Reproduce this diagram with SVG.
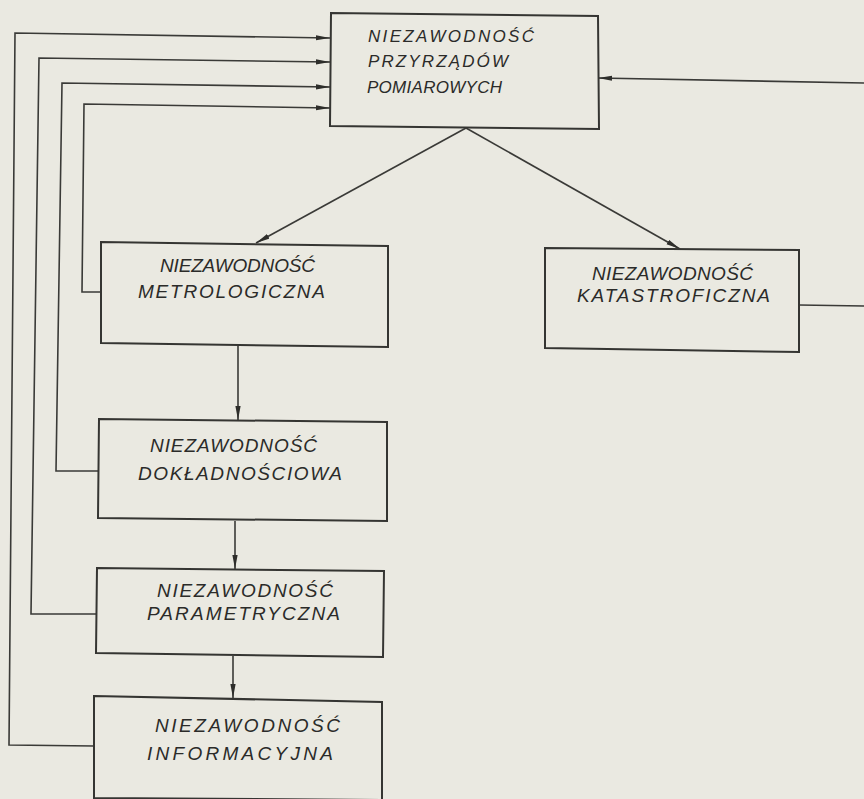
<svg xmlns="http://www.w3.org/2000/svg" width="864" height="799" viewBox="0 0 864 799">
<style>
.bg{fill:#eae9e1}
.box{fill:none;stroke:#353532;stroke-width:2;stroke-linejoin:miter}
.lbl{font-family:"Liberation Sans","DejaVu Sans",sans-serif;font-style:italic;font-size:19px;fill:#2b2b29}
.sm{font-size:17px}
.con{fill:none;stroke:#3a3a37;stroke-width:1.6}
</style>
<defs>
<marker id="arr" viewBox="0 0 14 6" refX="14" refY="3" markerWidth="14" markerHeight="6" markerUnits="userSpaceOnUse" orient="auto">
<path d="M0,0.4 L14,3 L0,5.6 z" fill="#2e2e2b"/>
</marker>
</defs>
<rect class="bg" x="0" y="0" width="864" height="799"/>

<g id="connectors">
<polyline class="con" points="94,746 9,745 15,33 330,38" marker-end="url(#arr)"/>
<polyline class="con" points="96,614 31,614 39,58 330,62" marker-end="url(#arr)"/>
<polyline class="con" points="98,471 56,471 62,83 330,87" marker-end="url(#arr)"/>
<polyline class="con" points="101,292 82,292 84,104 330,108" marker-end="url(#arr)"/>
<polyline class="con" points="864,83 598,78" marker-end="url(#arr)"/>
<polyline class="con" points="799,305 864,306"/>
<line class="con" x1="466" y1="128" x2="256" y2="243" marker-end="url(#arr)"/>
<line class="con" x1="466" y1="128" x2="680" y2="249" marker-end="url(#arr)"/>
<line class="con" x1="238" y1="346" x2="238" y2="420" marker-end="url(#arr)"/>
<line class="con" x1="235" y1="521" x2="235" y2="569" marker-end="url(#arr)"/>
<line class="con" x1="233" y1="656" x2="233" y2="698" marker-end="url(#arr)"/>
</g>

<g id="n-przyrzadow">
<polygon class="box" points="331,13 598,16 599,129 330,126"/>
<text class="lbl sm" x="368" y="42" textLength="166" lengthAdjust="spacing">NIEZAWODNOŚĆ</text>
<text class="lbl sm" x="368" y="67" textLength="140" lengthAdjust="spacing">PRZYRZĄDÓW</text>
<text class="lbl sm" x="367" y="93" textLength="135" lengthAdjust="spacing">POMIAROWYCH</text>
</g>

<g id="n-metrologiczna">
<polygon class="box" points="101,242 388,246 388,347 101,343"/>
<text class="lbl" x="160" y="272" textLength="155" lengthAdjust="spacing">NIEZAWODNOŚĆ</text>
<text class="lbl" x="138" y="298" textLength="187" lengthAdjust="spacing">METROLOGICZNA</text>
</g>

<g id="n-katastroficzna">
<polygon class="box" points="545,248 799,250 799,352 545,348"/>
<text class="lbl" x="592" y="280" textLength="161" lengthAdjust="spacing">NIEZAWODNOŚĆ</text>
<text class="lbl" x="577" y="302" textLength="193" lengthAdjust="spacing">KATASTROFICZNA</text>
</g>

<g id="n-dokladnosciowa">
<polygon class="box" points="99,419 387,422 387,521 98,518"/>
<text class="lbl" x="150" y="452" textLength="167" lengthAdjust="spacing">NIEZAWODNOŚĆ</text>
<text class="lbl" x="138" y="480" textLength="204" lengthAdjust="spacing">DOKŁADNOŚCIOWA</text>
</g>

<g id="n-parametryczna">
<polygon class="box" points="97,568 384,571 383,657 96,653"/>
<text class="lbl" x="157" y="597" textLength="176" lengthAdjust="spacing">NIEZAWODNOŚĆ</text>
<text class="lbl" x="147" y="620" textLength="193" lengthAdjust="spacing">PARAMETRYCZNA</text>
</g>

<g id="n-informacyjna">
<polygon class="box" points="94,696 382,702 382,800 94,798"/>
<text class="lbl" x="155" y="732" textLength="185" lengthAdjust="spacing">NIEZAWODNOŚĆ</text>
<text class="lbl" x="147" y="760" textLength="186" lengthAdjust="spacing">INFORMACYJNA</text>
</g>
</svg>
